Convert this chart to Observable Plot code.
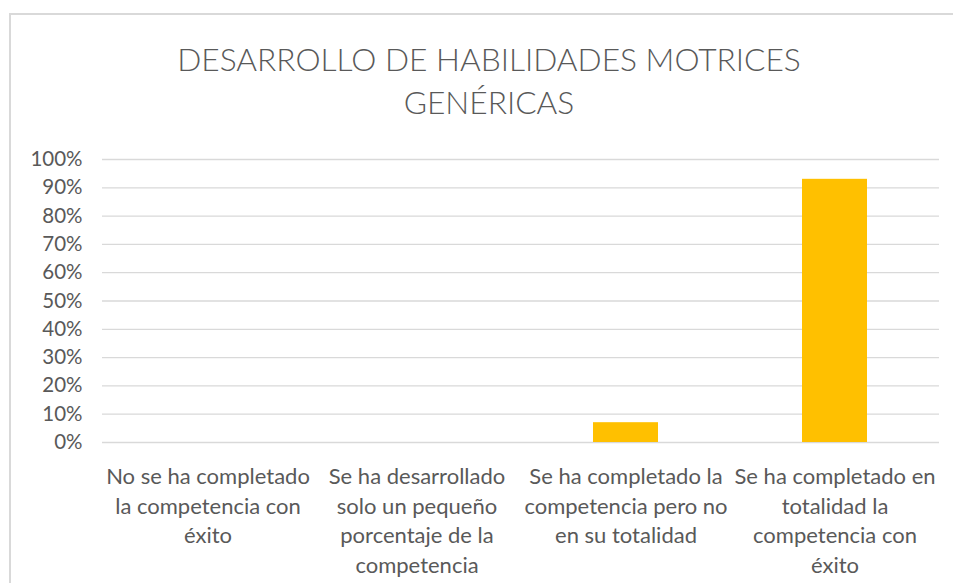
<!DOCTYPE html>
<html>
<head>
<meta charset="utf-8">
<script src="https://cdn.jsdelivr.net/npm/d3@7"></script>
<script src="https://cdn.jsdelivr.net/npm/@observablehq/plot@0.6"></script>
<style>
  html, body { margin: 0; padding: 0; background: #fff; }
  #wrap { position: relative; width: 953px; height: 583px; overflow: hidden; font-family: Lato, "Open Sans", sans-serif; }
  #frame { position: absolute; left: 9px; top: 13px; width: 960px; height: 600px; border-left: 2px solid #d9d9d9; border-top: 2px solid #d9d9d9; box-sizing: border-box; }
  #title { position: absolute; left: 0; width: 978px; top: 38px; text-align: center; color: #595959; font-size: 31.7px; font-weight: 300; line-height: 43px; font-family: Lato, sans-serif; }
  #chart { position: absolute; left: 0; top: 0; }
</style>
</head>
<body>
<div id="wrap">
  <div id="frame"></div>
  <div id="title">DESARROLLO DE HABILIDADES MOTRICES<br>GENÉRICAS</div>
  <div id="chart"></div>
</div>
<script>
const categories = [
  "No se ha completado la competencia con éxito",
  "Se ha desarrollado solo un pequeño porcentaje de la competencia",
  "Se ha completado la competencia pero no en su totalidad",
  "Se ha completado en totalidad la competencia con éxito"
];
const tickLabels = [
  "No se ha completado\nla competencia con\néxito",
  "Se ha desarrollado\nsolo un pequeño\nporcentaje de la\ncompetencia",
  "Se ha completado la\ncompetencia pero no\nen su totalidad",
  "Se ha completado en\ntotalidad la\ncompetencia con\néxito"
];
const values = [0, 0, 0.07, 0.93];
const yTicks = [0, 0.1, 0.2, 0.3, 0.4, 0.5, 0.6, 0.7, 0.8, 0.9, 1];

const data = categories.map((c, i) => ({category: c, value: values[i]}));
const labelOf = new Map(categories.map((c, i) => [c, tickLabels[i]]));

const chart = Plot.plot({
  width: 953,
  height: 583,
  marginTop: 159,
  marginBottom: 141,
  marginLeft: 102,
  marginRight: 14,
  style: {fontFamily: "Lato, sans-serif", color: "#595959", background: "transparent"},
  x: {domain: categories, paddingInner: 0.69, paddingOuter: 0.345, align: 0.5},
  y: {domain: [0, 1]},
  marks: [
    Plot.gridY(yTicks, {stroke: "#d9d9d9", strokeOpacity: 1, strokeWidth: 1.3}),
    Plot.axisY(yTicks, {
      tickSize: 0, tickPadding: 20, fontSize: 20.5, fill: "#595959",
      tickFormat: d3.format(".0%"), label: null
    }),
    Plot.barY(data, {x: "category", y: "value", fill: "#FFC000"}),
    Plot.axisX({
      tickSize: 0, tickPadding: 21, fontSize: 22, fill: "#595959",
      lineHeight: 1.34, tickFormat: d => labelOf.get(d), label: null
    })
  ]
});
document.getElementById("chart").appendChild(chart);
</script>
</body>
</html>
